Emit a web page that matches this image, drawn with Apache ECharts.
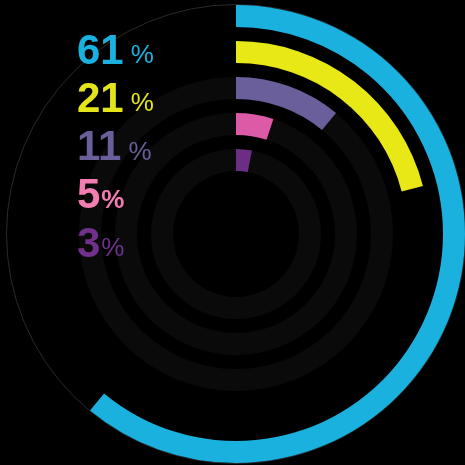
<!DOCTYPE html>
<html><head><meta charset="utf-8">
<script src="https://cdn.jsdelivr.net/npm/echarts@6/dist/echarts.min.js"></script>
<style>html,body{margin:0;padding:0;background:#000}#c{width:465px;height:465px}</style>
</head><body><div id="c"></div>
<script>
// ring order: inner -> outer
const categories = ['d', 'c', 'b', 'a', 'o'];
const values = [3, 5, 11, 21, 61];
const ringColors = ['#6c2d84', '#dc5aa6', '#6a5f9a', '#e8e816', '#1bb1df'];
const trackColors = ['#0a0a0a', '#0a0a0a', '#0a0a0a', 'transparent', 'transparent'];
const maxValue = 100;
// labels top -> bottom
const labelValues = [61, 21, 11, 5, 3];
const labelColors = ['#1bb1df', '#e4e41a', '#6a5f9a', '#f27db2', '#70308c'];

const chart = echarts.init(document.getElementById('c'), null, {renderer: 'canvas'});
const graphics = labelValues.map((v, i) => ({
  type: 'text',
  left: 77,
  top: 31 + i * 48.3,
  z: 100,
  style: {
    text: '{n|' + v + '}{p|%}',
    rich: {
      n: {fontFamily: 'Liberation Sans', fontWeight: 'bold', fontSize: 42, fill: labelColors[i], lineHeight: 46, verticalAlign: 'bottom'},
      p: {fontFamily: 'Liberation Sans', fontWeight: v === 5 ? 'bold' : 'normal', fontSize: 26, fill: labelColors[i],
          padding: [0, 0, 4, v >= 10 ? 7 : 1], lineHeight: 30, verticalAlign: 'bottom'}
    }
  }
}));
chart.setOption({
  backgroundColor: '#000',
  animation: false,
  polar: [
    {center: [236, 234], radius: [56, 236]},
    {center: [236, 234], radius: [0, 229.5]}
  ],
  angleAxis: [
    {polarIndex: 0, max: maxValue, startAngle: 90, clockwise: true, show: false},
    {polarIndex: 1, max: maxValue, startAngle: 90, clockwise: true,
     axisLine: {show: true, lineStyle: {color: '#2a2a2a', width: 1}},
     axisTick: {show: false}, axisLabel: {show: false}, splitLine: {show: false}}
  ],
  radiusAxis: [
    {polarIndex: 0, type: 'category', data: categories, show: false},
    {polarIndex: 1, type: 'value', max: 1, show: false}
  ],
  series: [
    {
      type: 'bar', coordinateSystem: 'polar', polarIndex: 0, barWidth: 22, stack: 'ring',
      z: 3,
      data: values.map((v, i) => ({value: v, itemStyle: {color: ringColors[i]}}))
    },
    {
      type: 'bar', coordinateSystem: 'polar', polarIndex: 0, barWidth: 22, stack: 'ring',
      silent: true, z: 2,
      data: values.map((v, i) => ({value: maxValue - v, itemStyle: {color: trackColors[i]}}))
    }
  ],
  graphic: graphics
});
</script></body></html>
